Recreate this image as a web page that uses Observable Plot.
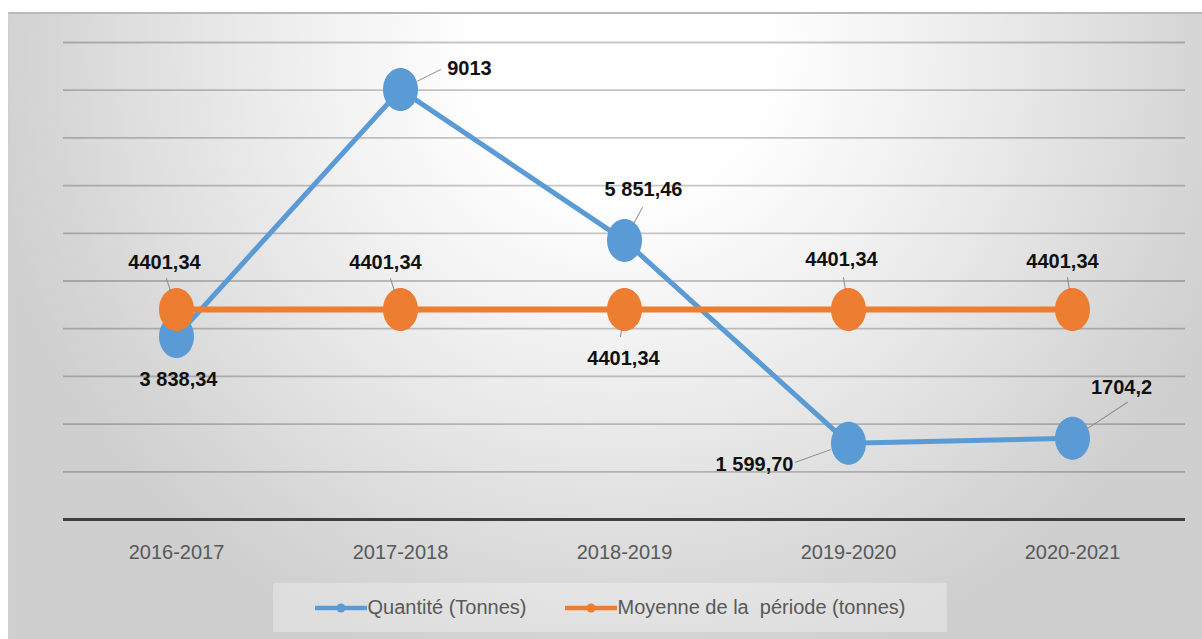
<!DOCTYPE html>
<html>
<head>
<meta charset="utf-8">
<script src="https://cdn.jsdelivr.net/npm/d3@7"></script>
<script src="https://cdn.jsdelivr.net/npm/@observablehq/plot@0.6"></script>
<style>
  html, body { margin: 0; padding: 0; background: #fff; }
  #wrap { position: relative; width: 1202px; height: 639px; overflow: hidden; font-family: "Liberation Sans", Arial, sans-serif; }
  #panel { position: absolute; left: 8px; top: 12px; right: 0; bottom: 0;
    border-top: 2px solid #b9b9b9; border-left: 1px solid #d0d0d0;
    background: radial-gradient(ellipse 650px 640px at 612px 38px, #ffffff 0%, #ffffff 22%, #f0f0f0 48%, #e2e2e2 70%, #d6d6d6 88%, #cfcfcf 100%); }
  #chart { position: absolute; left: 0; top: 0; }
  #legend { position: absolute; left: 273px; top: 583px; width: 674px; height: 49px;
    background: rgba(255,255,255,0.3); display: flex; align-items: center; justify-content: center;
    font-size: 20px; color: #595959; }
  .item { display: flex; align-items: center; }
  .item + .item { margin-left: 38px; }
  .item svg { margin-right: 1px; }
</style>
</head>
<body>
<div id="wrap">
  <div id="panel"></div>
  <div id="chart"></div>
  <div id="legend"></div>
</div>
<script>
// ---- data ----
const categories = ["2016-2017", "2017-2018", "2018-2019", "2019-2020", "2020-2021"];
const quantite = [3838.34, 9013, 5851.46, 1599.70, 1704.2];
const moyenne = [4401.34, 4401.34, 4401.34, 4401.34, 4401.34];
const quantiteLabels = ["3 838,34", "9013", "5 851,46", "1 599,70", "1704,2"];
const moyenneLabels = ["4401,34", "4401,34", "4401,34", "4401,34", "4401,34"];
const yTicks = [1000, 2000, 3000, 4000, 5000, 6000, 7000, 8000, 9000, 10000];
const seriesNames = ["Quantité (Tonnes)", "Moyenne de la  période (tonnes)"];

// label placement (pixel offsets from each point, Excel-style)
const quantiteLabelOffsets = [[2, 43], [69, -21], [19, -51], [-94, 21], [49, -51]];
const moyenneLabelOffsets = [[-12, -47], [-15, -47], [-1, 49], [-7, -50], [-10, -48]];
const quantiteLeaders = [null, [40, -20], [18, -33], [-53, 19], [55, -36]];
const moyenneLeaders = [[-10, -31], [-10, -31], [-4, 27], [-5, -32], [-5, -32]];

const blue = "#5B9BD5", orange = "#ED7D31";

const qData = categories.map((c, i) => ({cat: c, value: quantite[i], label: quantiteLabels[i]}));
const mData = categories.map((c, i) => ({cat: c, value: moyenne[i], label: moyenneLabels[i]}));

const ellipse = {
  draw(ctx) {
    const rx = 17.5, ry = 21.5, k = 0.5523;
    ctx.moveTo(rx, 0);
    ctx.bezierCurveTo(rx, ry * k, rx * k, ry, 0, ry);
    ctx.bezierCurveTo(-rx * k, ry, -rx, ry * k, -rx, 0);
    ctx.bezierCurveTo(-rx, -ry * k, -rx * k, -ry, 0, -ry);
    ctx.bezierCurveTo(rx * k, -ry, rx, -ry * k, rx, 0);
    ctx.closePath();
  }
};
const leaderShape = { draw(ctx, l) { ctx.moveTo(0, -19); ctx.lineTo(0, -l); } };

function leaderMarks(data, leaders) {
  return data.map((d, i) => {
    const o = leaders[i];
    if (!o) return null;
    const len = Math.hypot(o[0], o[1]);
    const rot = Math.atan2(o[0], -o[1]) * 180 / Math.PI;
    return Plot.vector([d], {x: "cat", y: "value", length: len, rotate: rot, anchor: "start",
      shape: leaderShape, stroke: "#8c8c8c", strokeWidth: 1});
  });
}
function labelMarks(data, offsets) {
  return data.map((d, i) => Plot.text([d], {x: "cat", y: "value", text: "label",
    dx: offsets[i][0], dy: offsets[i][1], fontSize: 20, fontWeight: "bold", fill: "#111",
    textAnchor: "middle", lineAnchor: "middle"}));
}

const chart = Plot.plot({
  width: 1202,
  height: 575,
  marginLeft: 63,
  marginRight: 17,
  marginTop: 42,
  marginBottom: 56,
  style: {background: "transparent", fontFamily: "'Liberation Sans', Arial, sans-serif", overflow: "visible"},
  x: {type: "point", domain: categories, padding: 0.5, axis: null},
  y: {domain: [0, 10000], axis: null},
  marks: [
    Plot.ruleY(yTicks, {stroke: "#000", strokeOpacity: 0.22, strokeWidth: 1.8}),
    Plot.ruleY([0], {stroke: "#3f3f3f", strokeWidth: 3.2}),
    Plot.axisX({tickSize: 0, tickPadding: 25, fontSize: 20, color: "#595959", label: null}),
    Plot.line(qData, {x: "cat", y: "value", stroke: blue, strokeWidth: 5}),
    Plot.dot(qData, {x: "cat", y: "value", symbol: ellipse, fill: blue, stroke: "none"}),
    Plot.line(mData, {x: "cat", y: "value", stroke: orange, strokeWidth: 6}),
    Plot.dot(mData, {x: "cat", y: "value", symbol: ellipse, fill: orange, stroke: "none"}),
    ...leaderMarks(qData, quantiteLeaders),
    ...leaderMarks(mData, moyenneLeaders),
    ...labelMarks(qData, quantiteLabelOffsets),
    ...labelMarks(mData, moyenneLabelOffsets)
  ].filter(Boolean)
});
document.getElementById("chart").appendChild(chart);

// legend
const legend = document.getElementById("legend");
[[seriesNames[0], blue], [seriesNames[1], orange]].forEach(([name, color]) => {
  const item = document.createElement("div");
  item.className = "item";
  item.innerHTML = `<svg width="52" height="12"><line x1="0" x2="52" y1="6" y2="6" stroke="${color}" stroke-width="4.5"/><circle cx="26" cy="6" r="4.5" fill="${color}"/></svg><span style="white-space:pre">${name}</span>`;
  legend.appendChild(item);
});
</script>
</body>
</html>
